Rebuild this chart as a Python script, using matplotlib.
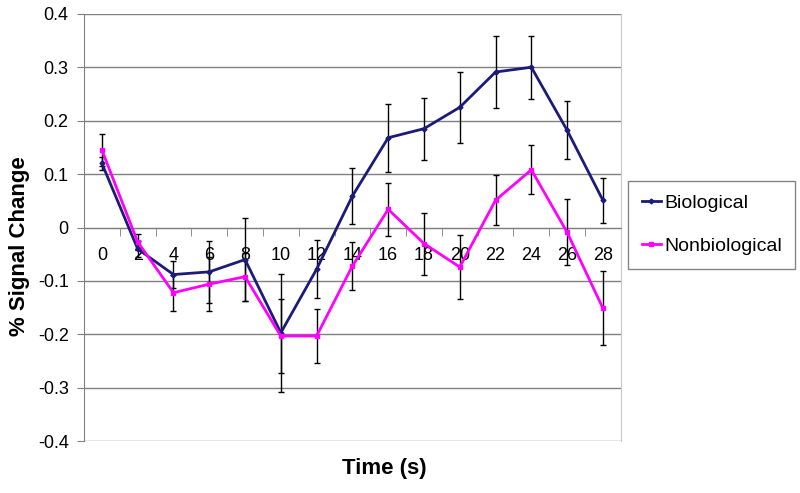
import numpy as np
import matplotlib
matplotlib.use('Agg')
import matplotlib.pyplot as plt
from matplotlib.lines import Line2D

plt.rcParams['font.family'] = ['Liberation Sans', 'DejaVu Sans']

tempos = ['0', '2', '4', '6', '8', '10', '12', '14', '16', '18', '20', '22', '24', '26', '28']
bio = [0.12, -0.04, -0.088, -0.083, -0.06, -0.197, -0.078, 0.059, 0.168, 0.185, 0.225, 0.291, 0.300, 0.182, 0.051]
bio_err = [0.012, 0.015, 0.025, 0.058, 0.078, 0.11, 0.054, 0.053, 0.064, 0.058, 0.066, 0.068, 0.059, 0.054, 0.042]
nonbio = [0.145, -0.027, -0.122, -0.106, -0.092, -0.203, -0.203, -0.072, 0.034, -0.03, -0.074, 0.051, 0.108, -0.009, -0.151]
nonbio_err = [0.03, 0.015, 0.034, 0.05, 0.045, 0.07, 0.051, 0.045, 0.05, 0.058, 0.06, 0.047, 0.046, 0.062, 0.069]

cor_bio = '#1c1c78'
cor_nonbio = '#ff00ff'

x = np.arange(len(tempos))

fig = plt.figure(figsize=(8, 4.93), dpi=100)
ax = fig.add_axes([0.105, 0.105, 0.671, 0.867])

ax.errorbar(x, bio, yerr=bio_err, color=cor_bio, lw=2, marker='D', ms=2.5,
            ecolor='black', elinewidth=1, capsize=2.5, capthick=1, zorder=3)
ax.errorbar(x, nonbio, yerr=nonbio_err, color=cor_nonbio, lw=2, marker='s', ms=2.5,
            ecolor='black', elinewidth=1, capsize=2.5, capthick=1, zorder=3)

ax.set_xlim(-0.5, len(tempos) - 0.5)
ax.set_ylim(-0.4, 0.4)
ax.set_yticks(np.arange(-0.4, 0.41, 0.1))
ax.set_yticklabels(['-0.4', '-0.3', '-0.2', '-0.1', '0', '0.1', '0.2', '0.3', '0.4'], fontsize=13)
ax.yaxis.grid(True, color='#808080', lw=1)
ax.set_axisbelow(True)

# eixo x no zero, como no Excel
ax.spines['bottom'].set_position(('data', 0))
ax.spines['bottom'].set_color('#808080')
ax.spines['top'].set_visible(False)
ax.spines['right'].set_color('#c8c8c8')
ax.spines['left'].set_color('#808080')
ax.set_xticks(x)
ax.set_xticklabels(tempos, fontsize=13)
ax.set_xticks(np.arange(-0.5, len(tempos), 1), minor=True)
ax.tick_params(axis='x', which='major', length=0, pad=14)
ax.tick_params(axis='x', which='minor', length=6, color='#808080', direction='out')
ax.tick_params(axis='y', length=5, color='#808080', direction='out', pad=6)

fig.text(0.48, 0.05, 'Time (s)', ha='center', va='center', fontsize=16, fontweight='bold')
fig.text(0.025, 0.5, '% Signal Change', ha='center', va='center', rotation=90, fontsize=16, fontweight='bold')

handles = [Line2D([], [], color=cor_bio, lw=2, marker='D', ms=2.5),
           Line2D([], [], color=cor_nonbio, lw=2, marker='s', ms=2.5)]
leg = fig.legend(handles, ['Biological', 'Nonbiological'], loc='upper left',
                 bbox_to_anchor=(0.785, 0.633), fontsize=14,
                 frameon=True, fancybox=False, edgecolor='#666666', handlelength=1.0,
                 handletextpad=0.15, borderpad=0.7, labelspacing=1.3, borderaxespad=0)
leg.get_frame().set_linewidth(1)

fig.savefig('out.png', dpi=100)
